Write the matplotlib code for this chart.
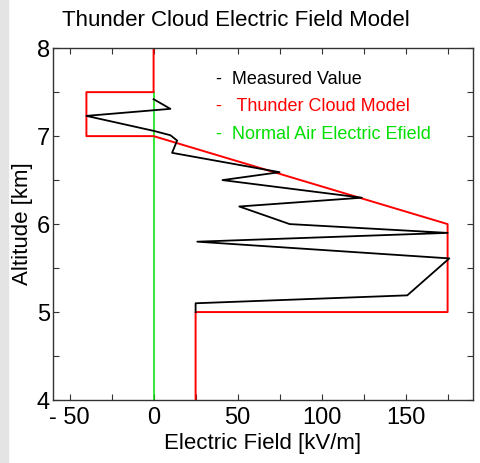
import matplotlib.pyplot as plt
from matplotlib.patches import Rectangle

plt.rcParams['font.family'] = ['Liberation Sans', 'DejaVu Sans']

# measured field profile (kV/m vs km)
measured_field = [0, 10, -40, 0, 10, 14, 11, 75, 41, 124, 51, 81, 175, 26, 176, 151, 25, 25]
measured_alt = [7.42, 7.31, 7.23, 7.06, 7.01, 6.95, 6.81, 6.59, 6.50, 6.30, 6.20, 6.00, 5.90, 5.80, 5.61, 5.19, 5.10, 5.00]

# thunder cloud model
model_field = [0, 0, -40, -40, 0, 175, 175, 25, 25]
model_alt = [8, 7.5, 7.5, 7.0, 7.0, 6.0, 5.0, 5.0, 4.0]

# normal air field
normal_field = [0, 0]
normal_alt = [7.5, 4.0]

xticks = [-50, 0, 50, 100, 150]
xticklabels = ['- 50', '0', '50', '100', '150']
yticks = [4, 5, 6, 7, 8]

fig = plt.figure(figsize=(4.8, 4.63), dpi=100)
fig.patches.append(Rectangle((0, 0), 8 / 480, 1, transform=fig.transFigure,
                             color='#e4e4e4', zorder=0))
ax = fig.add_axes([0.110, 0.136, 0.875, 0.760])

ax.plot(normal_field, normal_alt, color='#00e000', lw=1.1)
ax.plot(model_field, model_alt, color='#ff0000', lw=1.4)
ax.plot(measured_field, measured_alt, color='black', lw=1.3)

ax.set_xlim(-60, 190)
ax.set_ylim(4, 8)
ax.set_xticks(xticks)
ax.set_xticklabels(xticklabels)
ax.set_xticks(range(-50, 190, 25), minor=True)
ax.set_yticks(yticks)
ax.set_yticks([4.5, 5.5, 6.5, 7.5], minor=True)
ax.tick_params(which='both', direction='in', top=True, right=True,
               length=4, width=0.8, color='#333333', labelsize=17)
ax.tick_params(axis='x', pad=5)
ax.tick_params(axis='y', pad=2)
for s in ax.spines.values():
    s.set_color('#333333')
    s.set_linewidth(1)

ax.set_xlabel('Electric Field [kV/m]', fontsize=16, labelpad=3)
ax.set_ylabel('Altitude [km]', fontsize=16, labelpad=3)
fig.text(236 / 480, 1 - 21 / 463, 'Thunder Cloud Electric Field Model',
         fontsize=16, ha='center', va='center')

legend = [('-  Measured Value', 'black'),
          ('-   Thunder Cloud Model', 'red'),
          ('-  Normal Air Electric Efield', '#00e000')]
for i, (label, c) in enumerate(legend):
    ax.text(0.388, 0.91 - i * 0.077, label, color=c, fontsize=13,
            transform=ax.transAxes, va='center', ha='left')

fig.savefig('out.png', dpi=100)
